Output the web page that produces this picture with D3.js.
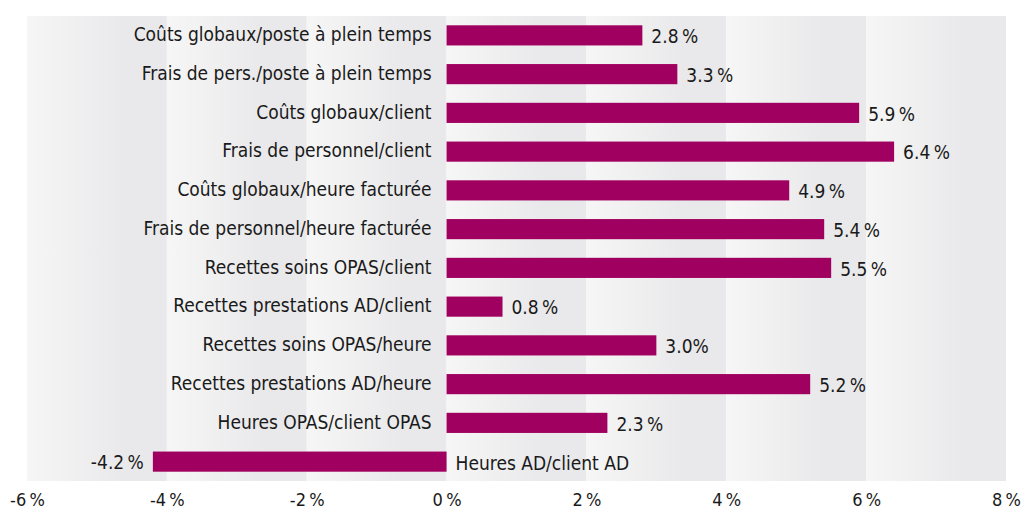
<!DOCTYPE html>
<html>
<head>
<meta charset="utf-8">
<script src="https://cdn.jsdelivr.net/npm/d3@7"></script>
<style>
  html, body { margin: 0; padding: 0; background: #fff; }
  svg { display: block; }
  text { font-family: "DejaVu Sans Condensed", "Liberation Sans Narrow", sans-serif; fill: #1a1a1a; }
</style>
</head>
<body>
<svg id="chart" width="1025" height="510"></svg>
<script>
// Change in percent per indicator
const categories = [
  "Coûts globaux/poste à plein temps",
  "Frais de pers./poste à plein temps",
  "Coûts globaux/client",
  "Frais de personnel/client",
  "Coûts globaux/heure facturée",
  "Frais de personnel/heure facturée",
  "Recettes soins OPAS/client",
  "Recettes prestations AD/client",
  "Recettes soins OPAS/heure",
  "Recettes prestations AD/heure",
  "Heures OPAS/client OPAS",
  "Heures AD/client AD"
];
const values = [2.8, 3.3, 5.9, 6.4, 4.9, 5.4, 5.5, 0.8, 3.0, 5.2, 2.3, -4.2];
const valueLabels = ["2.8\u2009%", "3.3\u2009%", "5.9\u2009%", "6.4\u2009%", "4.9\u2009%", "5.4\u2009%",
                     "5.5\u2009%", "0.8\u2009%", "3.0%", "5.2\u2009%", "2.3\u2009%", "-4.2\u2009%"];
const tickValues = [-6, -4, -2, 0, 2, 4, 6, 8];
const tickLabels = ["-6\u2009%", "-4\u2009%", "-2\u2009%", "0\u2009%", "2\u2009%", "4\u2009%", "6\u2009%", "8\u2009%"];

const svg = d3.select("#chart");
const margin = { top: 16, left: 27, right: 19, bottom: 29 };
const W = 1025, H = 510;

const x = d3.scaleLinear().domain([-6, 8]).range([margin.left, W - margin.right]);
const y = d3.scaleBand().domain(categories).range([margin.top, H - margin.bottom]).paddingInner(0.48).paddingOuter(0.24);

// Band gradient: light on the left, darker towards the right
const defs = svg.append("defs");
const grad = defs.append("linearGradient").attr("id", "bandGrad").attr("x1", "0").attr("x2", "1").attr("y1", "0").attr("y2", "0");
grad.append("stop").attr("offset", "0").attr("stop-color", "#f6f6f6");
grad.append("stop").attr("offset", "0.7").attr("stop-color", "#e9e9eb");
grad.append("stop").attr("offset", "1").attr("stop-color", "#e9e9eb");

const bands = d3.range(tickValues.length - 1).map(i => [tickValues[i], tickValues[i + 1]]);
svg.append("g").selectAll("rect").data(bands).join("rect")
  .attr("x", d => x(d[0]))
  .attr("width", d => x(d[1]) - x(d[0]))
  .attr("y", margin.top)
  .attr("height", H - margin.bottom - margin.top)
  .attr("fill", "url(#bandGrad)");

const rows = categories.map((c, i) => ({ c, v: values[i], l: valueLabels[i] }));

// Bars
svg.append("g").selectAll("rect").data(rows).join("rect")
  .attr("x", d => x(Math.min(0, d.v)))
  .attr("width", d => Math.abs(x(d.v) - x(0)))
  .attr("y", d => y(d.c))
  .attr("height", y.bandwidth())
  .attr("fill", "#a0005f");

const fs = 19;
// Category labels
svg.append("g").selectAll("text").data(rows).join("text")
  .attr("x", d => d.v >= 0 ? x(0) - 15 : x(0) + 9)
  .attr("y", d => y(d.c) + y.bandwidth() / 2 + (d.v >= 0 ? -1 : 2))
  .attr("dy", "0.35em")
  .attr("text-anchor", d => d.v >= 0 ? "end" : "start")
  .attr("font-size", fs)
  .text(d => d.c);

// Value labels
svg.append("g").selectAll("text").data(rows).join("text")
  .attr("x", d => d.v >= 0 ? x(d.v) + 9 : x(d.v) - 9)
  .attr("y", d => y(d.c) + y.bandwidth() / 2 + 1)
  .attr("dy", "0.35em")
  .attr("text-anchor", d => d.v >= 0 ? "start" : "end")
  .attr("font-size", fs)
  .text(d => d.l);

// X axis
const axis = d3.axisBottom(x).tickValues(tickValues).tickSize(0).tickPadding(0)
  .tickFormat((d, i) => tickLabels[i]);
const gx = svg.append("g").attr("transform", `translate(0,${H - margin.bottom + 19})`).call(axis);
gx.select(".domain").remove();
gx.selectAll("text").attr("font-size", 18).attr("dy", "0.35em").attr("fill", "#1a1a1a")
  .style("font-family", "\"DejaVu Sans Condensed\", \"Liberation Sans Narrow\", sans-serif");
</script>
</body>
</html>
